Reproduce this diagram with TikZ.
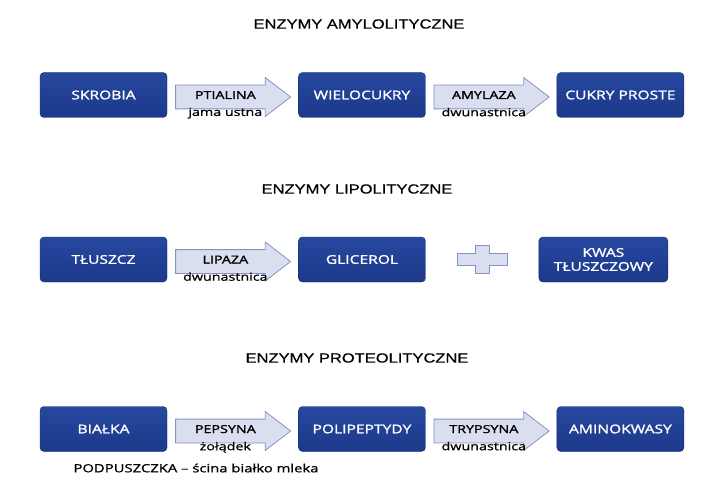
\documentclass[tikz,border=0pt]{standalone}
\usepackage{fontspec}
\setmainfont{Open Sans}[FakeStretch=1.3, FakeBold=1.6]
\newfontfamily\cienkifont{Open Sans}[FakeStretch=1.3, FakeBold=1]
\newfontfamily\tytulfont{Liberation Sans}[FakeStretch=1.25, FakeBold=0.6]
\usepackage{tikz}
\usetikzlibrary{shapes.arrows, positioning, calc}

\definecolor{blokgora}{HTML}{26489F}
\definecolor{blokdol}{HTML}{1C398A}
\definecolor{blokram}{HTML}{152C6B}
\definecolor{strzalkafill}{HTML}{DADFF0}
\definecolor{strzalkaram}{HTML}{8791C6}

\begin{document}
\begin{tikzpicture}[
        x=1pt, y=-1pt,
        node distance=8pt,
        blok/.style={rectangle, draw=blokram, top color=blokgora, bottom color=blokdol, rounded corners=4pt, minimum width=127pt, minimum height=45pt, text=white, align=center, inner sep=2pt, font=\fontsize{12}{14}\selectfont},
        strzalka/.style={single arrow, draw=strzalkaram, fill=strzalkafill, line width=0.8pt, minimum height=115pt, single arrow head extend=7.5pt, single arrow tip angle=75, text height=6pt, text depth=2pt, inner ysep=7.5pt, yshift=-2pt, font=\fontsize{11}{13}\selectfont},
        opis/.style={font=\cienkifont\fontsize{11}{13}\selectfont, yshift=5pt},
        tytul/.style={font=\tytulfont\fontsize{13.2}{15}\selectfont},
        znak/.style={draw=strzalkaram, fill=strzalkafill, line width=0.8pt}
    ]
    \useasboundingbox (0,0) rectangle (720,500);

    % enzymy amylolityczne
    \node[tytul] (tytul1) at (359,24) {ENZYMY AMYLOLITYCZNE};
    \node[blok] (skrobia) at (103.5,95) {SKROBIA};
    \node[strzalka, right=of skrobia, label={[opis]below:jama ustna}] (ptialina) {PTIALINA};
    \node[blok, right=7pt of ptialina.east |- skrobia] (wielocukry) {WIELOCUKRY};
    \node[strzalka, right=of wielocukry, label={[opis]below:dwunastnica}] (amylaza) {AMYLAZA};
    \node[blok, right=7pt of amylaza.east |- skrobia] (cukry) {CUKRY PROSTE};

    % enzymy lipolityczne
    \node[tytul] (tytul2) at (357,189) {ENZYMY LIPOLITYCZNE};
    \node[blok] (tluszcz) at (103.5,259.5) {TŁUSZCZ};
    \node[strzalka, right=of tluszcz, label={[opis]below:dwunastnica}] (lipaza) {LIPAZA};
    \node[blok, right=7pt of lipaza.east |- tluszcz] (glicerol) {GLICEROL};
    \node[blok, right=113pt of glicerol, minimum width=129pt] (kwas) {KWAS\\TŁUSZCZOWY};
    \coordinate (plus) at ($(glicerol.east)!0.5!(kwas.west)$);
    \draw[znak, shift={(plus)}] (-25,-6) -- (-7,-6) -- (-7,-14) -- (7,-14) -- (7,-6) -- (25,-6)
        -- (25,6) -- (7,6) -- (7,14) -- (-7,14) -- (-7,6) -- (-25,6) -- cycle;

    % enzymy proteolityczne
    \node[tytul] (tytul3) at (357,358) {ENZYMY PROTEOLITYCZNE};
    \node[blok] (bialka) at (103.5,429) {BIAŁKA};
    \node[strzalka, right=of bialka, label={[opis]below:żołądek}] (pepsyna) {PEPSYNA};
    \node[blok, right=7pt of pepsyna.east |- bialka] (polipeptydy) {POLIPEPTYDY};
    \node[strzalka, right=of polipeptydy, label={[opis]below:dwunastnica}] (trypsyna) {TRYPSYNA};
    \node[blok, right=7pt of trypsyna.east |- bialka] (aminokwasy) {AMINOKWASY};
    \node[anchor=west, font=\cienkifont\fontsize{11.4}{13}\selectfont] (podpuszczka) at (70,468) {PODPUSZCZKA – ścina białko mleka};
\end{tikzpicture}
\end{document}
